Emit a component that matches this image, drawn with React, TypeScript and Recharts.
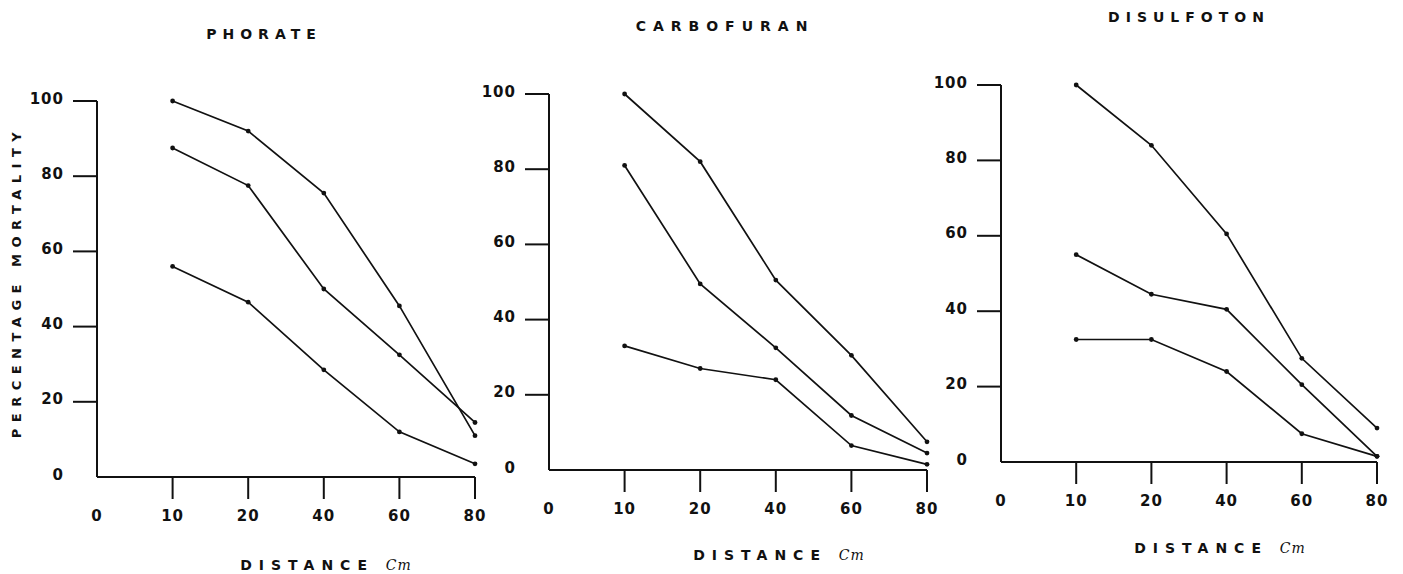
import { LineChart, Line, XAxis, YAxis } from 'recharts'

// distancia (cm) — la categoría "0" es el origen, sin medidas
const distancias = ['0', '10', '20', '40', '60', '80']
const medidas = ['10', '20', '40', '60', '80']
const ticksY = [0, 20, 40, 60, 80, 100]

// % de mortalidad, tres curvas por insecticida (alta, media, baja)
const phorateAlta = [100, 92, 75.5, 45.5, 11]
const phorateMedia = [87.5, 77.5, 50, 32.5, 14.5]
const phorateBaja = [56, 46.5, 28.5, 12, 3.5]

const carbofuranAlta = [100, 82, 50.5, 30.5, 7.5]
const carbofuranMedia = [81, 49.5, 32.5, 14.5, 4.5]
const carbofuranBaja = [33, 27, 24, 6.5, 1.5]

const disulfotonAlta = [100, 84, 60.5, 27.5, 9]
const disulfotonMedia = [55, 44.5, 40.5, 20.5, 1.5]
const disulfotonBaja = [32.5, 32.5, 24, 7.5, 1.5]

const TINTA = '#111'
const FUENTE = '"DejaVu Sans", sans-serif'

interface Fila {
  d: string
  alta?: number
  media?: number
  baja?: number
}

function construirFilas(alta: number[], media: number[], baja: number[]): Fila[] {
  return [
    { d: distancias[0] },
    ...medidas.map((d, i) => ({ d, alta: alta[i], media: media[i], baja: baja[i] })),
  ]
}

function TickY(props: any) {
  const { x, y, payload } = props
  const v = payload.value
  return (
    <g>
      {v !== 0 && <line x1={x - 24} y1={y} x2={x} y2={y} stroke={TINTA} strokeWidth={2} />}
      <text
        x={x - 33}
        y={y - 2}
        textAnchor="end"
        dominantBaseline="middle"
        fontSize={15}
        fontWeight="bold"
        fontFamily={FUENTE}
        letterSpacing={1}
        fill={TINTA}
      >
        {v}
      </text>
    </g>
  )
}

function TickX(props: any) {
  const { x, y, payload } = props
  const v = payload.value
  return (
    <g>
      {v !== '0' && <line x1={x} y1={y} x2={x} y2={y + 22} stroke={TINTA} strokeWidth={2} />}
      <text
        x={x}
        y={y + 39}
        textAnchor="middle"
        dominantBaseline="middle"
        fontSize={15}
        fontWeight="bold"
        fontFamily={FUENTE}
        letterSpacing={1}
        fill={TINTA}
      >
        {v}
      </text>
    </g>
  )
}

interface PanelProps {
  filas: Fila[]
  ox: number // x del origen
  rx: number // x de la categoría 80
  ty: number // y del 100
  by: number // y del 0
}

function Panel({ filas, ox, rx, ty, by }: PanelProps) {
  const anchoEje = 80
  const ancho = anchoEje + (rx - ox) + 20
  const alto = by + 60
  const lineas: Array<keyof Fila> = ['alta', 'media', 'baja']
  return (
    <div style={{ position: 'absolute', left: ox - anchoEje, top: 0 }}>
      <LineChart
        width={ancho}
        height={alto}
        data={filas}
        margin={{ top: ty, right: 20, left: 0, bottom: 0 }}
      >
        <XAxis
          dataKey="d"
          type="category"
          interval={0}
          height={60}
          tickSize={0}
          tickMargin={0}
          tickLine={false}
          axisLine={{ stroke: TINTA, strokeWidth: 2 }}
          tick={<TickX />}
        />
        <YAxis
          domain={[0, 100]}
          ticks={ticksY}
          width={anchoEje}
          tickSize={0}
          tickMargin={0}
          tickLine={false}
          axisLine={{ stroke: TINTA, strokeWidth: 2 }}
          tick={<TickY />}
        />
        {lineas.map((k) => (
          <Line
            key={k}
            type="linear"
            dataKey={k}
            stroke={TINTA}
            strokeWidth={1.7}
            dot={{ r: 2.4, fill: TINTA, stroke: TINTA, strokeWidth: 0 }}
            activeDot={false}
            isAnimationActive={false}
          />
        ))}
      </LineChart>
    </div>
  )
}

function Texto({ x, y, children, rotar, size = 14, ls = 6 }: {
  x: number
  y: number
  children: React.ReactNode
  rotar?: boolean
  size?: number
  ls?: number
}) {
  return (
    <div
      style={{
        position: 'absolute',
        left: x,
        top: y,
        transform: `translate(-50%, -50%)${rotar ? ' rotate(-90deg)' : ''}`,
        whiteSpace: 'nowrap',
        fontFamily: FUENTE,
        fontWeight: 'bold',
        fontSize: size,
        letterSpacing: ls,
        color: TINTA,
        lineHeight: 1,
      }}
    >
      {children}
    </div>
  )
}

function Cm() {
  return (
    <span style={{ fontFamily: '"DejaVu Serif", serif', fontStyle: 'italic', fontWeight: 'normal', letterSpacing: 1 }}>
      Cm
    </span>
  )
}

export default function App() {
  return (
    <div
      style={{
        position: 'absolute',
        left: 0,
        top: 0,
        width: 1403,
        height: 574,
        background: '#fff',
        overflow: 'hidden',
      }}
    >
      <Panel filas={construirFilas(phorateAlta, phorateMedia, phorateBaja)} ox={97} rx={475} ty={101} by={477} />
      <Panel filas={construirFilas(carbofuranAlta, carbofuranMedia, carbofuranBaja)} ox={549} rx={927} ty={94} by={470} />
      <Panel filas={construirFilas(disulfotonAlta, disulfotonMedia, disulfotonBaja)} ox={1001} rx={1377} ty={85} by={462} />

      <Texto x={264} y={34}>PHORATE</Texto>
      <Texto x={725} y={26} ls={7}>CARBOFURAN</Texto>
      <Texto x={1189} y={17}>DISULFOTON</Texto>

      <Texto x={16} y={282} rotar size={13} ls={6.5}>PERCENTAGE MORTALITY</Texto>

      <Texto x={326} y={565} ls={7}>DISTANCE <Cm /></Texto>
      <Texto x={779} y={555} ls={7}>DISTANCE <Cm /></Texto>
      <Texto x={1220} y={548} ls={7}>DISTANCE <Cm /></Texto>
    </div>
  )
}
